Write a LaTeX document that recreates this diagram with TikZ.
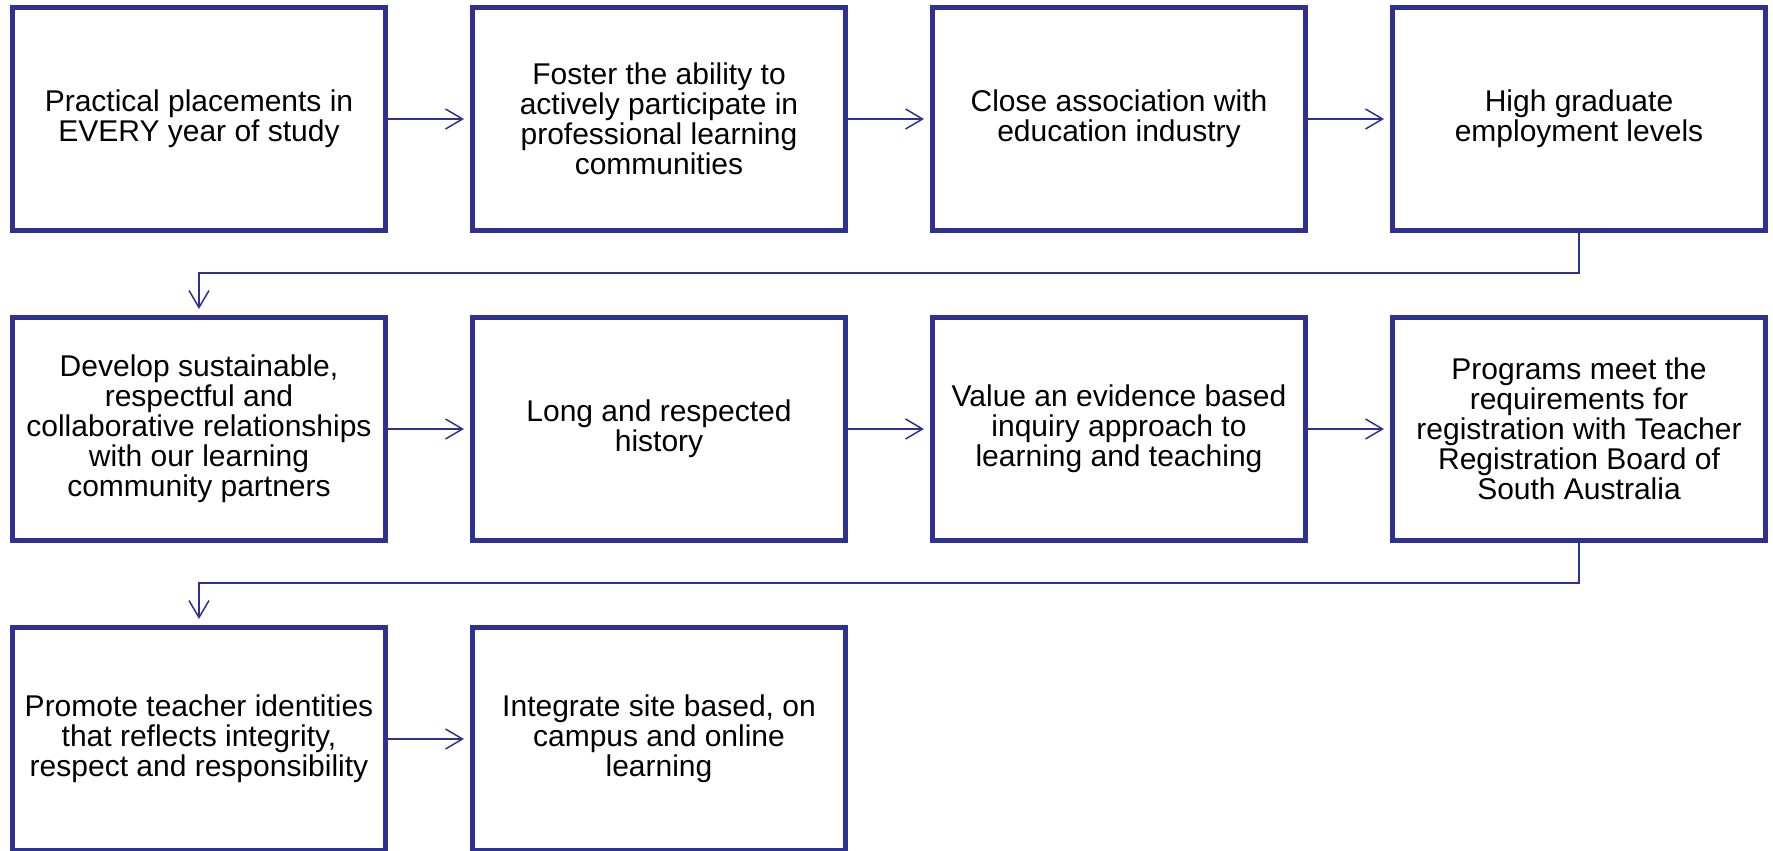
\documentclass[tikz,border=0pt]{standalone}
\usepackage{fontspec}
\setmainfont{Liberation Sans}
\usetikzlibrary{positioning,arrows.meta}
\definecolor{boxblue}{RGB}{46,49,146}

\begin{document}
\begin{tikzpicture}[x=1pt,y=1pt,
  box/.style={draw=boxblue,line width=5pt,minimum width=373pt,minimum height=223pt,
    inner sep=0pt,align=center,font=\fontsize{30}{30}\selectfont},
  link/.style={draw=boxblue,line width=1.5pt,-{Straight Barb[length=17pt,width=20pt]},shorten >=6pt}]
\useasboundingbox (0,0) rectangle (1773,-851);

% first row
\node[box] (b1) at (199,-119) {Practical placements in\\EVERY year of study};
\node[box,right=82pt of b1] (b2) {Foster the ability to\\actively participate in\\professional learning\\communities};
\node[box,right=82pt of b2] (b3) {Close association with\\education industry};
\node[box,right=82pt of b3] (b4) {High graduate\\employment levels};

% second row
\node[box,below=82pt of b1] (b5) {Develop sustainable,\\respectful and\\collaborative relationships\\with our learning\\community partners};
\node[box,right=82pt of b5] (b6) {Long and respected\\history};
\node[box,right=82pt of b6] (b7) {Value an evidence based\\inquiry approach to\\learning and teaching};
\node[box,right=82pt of b7] (b8) {Programs meet the\\requirements for\\registration with Teacher\\Registration Board of\\South Australia};

% third row
\node[box,below=82pt of b5] (b9) {Promote teacher identities\\that reflects integrity,\\respect and responsibility};
\node[box,right=82pt of b9] (b10) {Integrate site based, on\\campus and online\\learning};

\draw[link] (b1) -- (b2);
\draw[link] (b2) -- (b3);
\draw[link] (b3) -- (b4);
\draw[link] (b4.south) -- ++(0,-40) -| (b5.north);
\draw[link] (b5) -- (b6);
\draw[link] (b6) -- (b7);
\draw[link] (b7) -- (b8);
\draw[link] (b8.south) -- ++(0,-40) -| (b9.north);
\draw[link] (b9) -- (b10);
\end{tikzpicture}
\end{document}
